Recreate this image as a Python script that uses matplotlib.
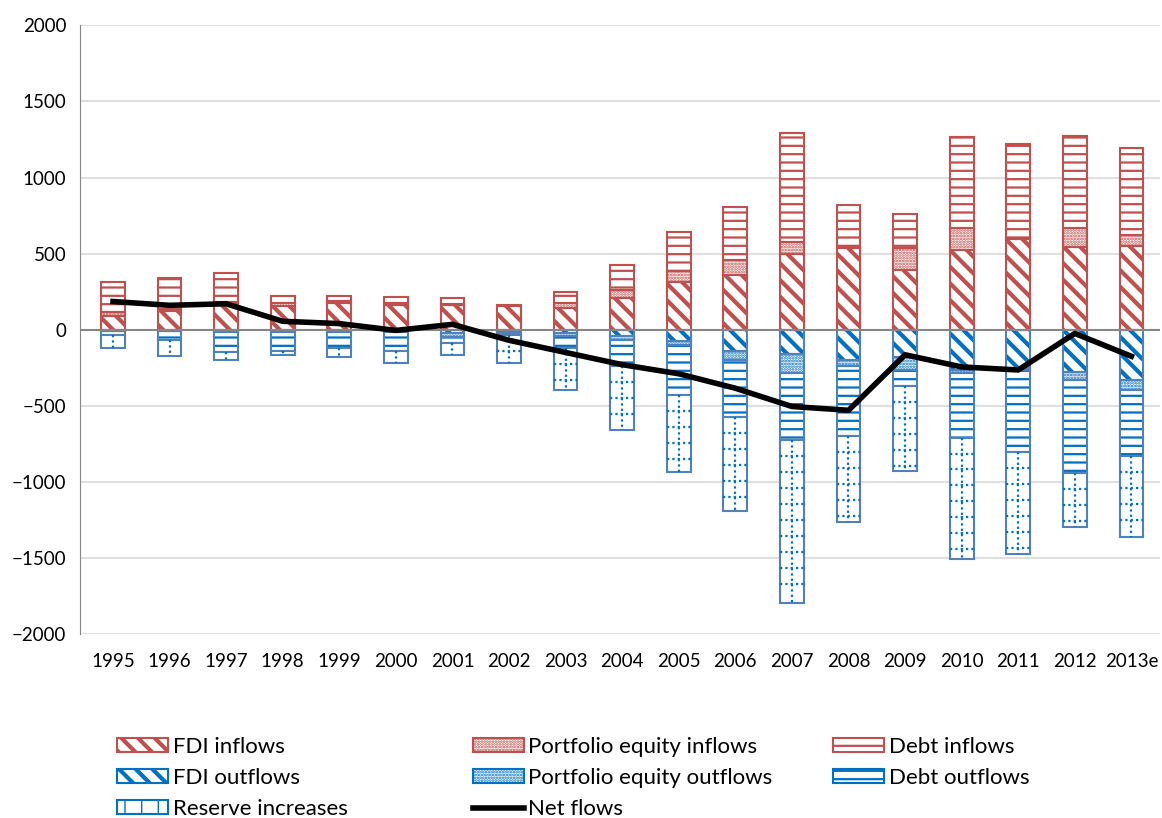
import numpy as np
import matplotlib.pyplot as plt
from matplotlib.patches import Patch
from matplotlib.lines import Line2D

plt.rcParams['font.family'] = ['Lato', 'DejaVu Sans']

years = ['1995', '1996', '1997', '1998', '1999', '2000', '2001', '2002', '2003', '2004',
         '2005', '2006', '2007', '2008', '2009', '2010', '2011', '2012', '2013e']

fdi_in = [92, 120, 170, 153, 175, 160, 160, 155, 143, 208, 311, 362, 495, 537, 395, 526, 596, 542, 553]
port_in = [22, 16, 10, 22, 15, 17, 10, 0, 32, 55, 73, 99, 79, 3, 142, 142, 4, 126, 72]
debt_in = [197, 202, 190, 49, 29, 40, 38, 7, 73, 165, 256, 343, 717, 278, 224, 597, 617, 608, 566]

fdi_out = [-8, -8, -10, -10, -10, -10, -20, -15, -22, -44, -77, -138, -160, -202, -180, -263, -252, -278, -329]
port_out = [-4, -4, -5, -5, -5, -5, -25, -5, -17, -22, -22, -59, -125, -39, -83, -22, -12, -51, -70]
debt_out = [-20, -54, -135, -125, -105, -127, -45, -15, -81, -175, -329, -378, -443, -461, -110, -424, -543, -614, -434]
reserves = [-91, -109, -47, -27, -60, -80, -77, -187, -275, -416, -507, -614, -1070, -559, -553, -796, -670, -355, -527]

net_flows = [185, 160, 170, 55, 40, -5, 35, -70, -150, -230, -290, -385, -505, -530, -165, -245, -265, -25, -175]

red = '#C0504D'
blue = '#0070C0'
blue_edge = '#4F81BD'

hatches = ['\\\\', '......', '--']
hatch_lw = [3.0, 1.3, 1.6]

x = np.arange(len(years))
w = 0.42

fig = plt.figure(figsize=(11.62, 8.18), dpi=100)
ax = fig.add_axes([0.069, 0.225, 0.929, 0.744])

for v in range(-2000, 2001, 500):
    if v == 0:
        continue
    ax.axhline(v, color='#D9D9D9', lw=1.2, zorder=0)

def set_hlw(p, lw):
    if hasattr(p, 'set_hatch_linewidth'):
        p.set_hatch_linewidth(lw)

def stack(series, color, edge):
    base = np.zeros(len(x))
    for s, h, hl in zip(series, hatches, hatch_lw):
        s = np.array(s, dtype=float)
        with plt.rc_context({'hatch.linewidth': hl}):
            bars = ax.bar(x, s, w, bottom=base, facecolor='white', edgecolor=color,
                          hatch=h, linewidth=0, zorder=2)
        for p in bars:
            set_hlw(p, hl)
        ax.bar(x, s, w, bottom=base, facecolor='none', edgecolor=edge,
               linewidth=1.5, zorder=3)
        base = base + s
    return base

stack([fdi_in, port_in, debt_in], red, red)
res_top = stack([fdi_out, port_out, debt_out], blue, blue_edge)

# reserve increases: white bars with a dotted grid
res = np.array(reserves, dtype=float)
ax.bar(x, res, w, bottom=res_top, facecolor='white', edgecolor=blue_edge,
       linewidth=1.5, zorder=3)
dots = (0, (1, 1.4))
for xi, top, r in zip(x, res_top, res):
    bot = top + r
    ax.plot([xi, xi], [top, bot], color=blue, lw=1.6, ls=dots, zorder=3)
    yy = top - 105
    while yy > bot + 20:
        ax.plot([xi - w / 2, xi + w / 2], [yy, yy], color=blue, lw=1.6, ls=dots, zorder=3)
        yy -= 105

ax.axhline(0, color='#868686', lw=1.5, zorder=4)
ax.plot(x, net_flows, color='black', lw=4, zorder=5)

ax.set_xlim(-0.58, 18.5)
ax.set_ylim(-2000, 2000)
ax.set_yticks(range(-2000, 2001, 500))
ax.set_xticks(x)
ax.set_xticklabels(years)
ax.tick_params(axis='both', labelsize=13.5, length=0)
ax.tick_params(axis='x', pad=14)
ax.tick_params(axis='y', pad=10)
for side in ['top', 'right', 'bottom']:
    ax.spines[side].set_visible(False)
ax.spines['left'].set_color('#868686')

def patch(color, i):
    return Patch(facecolor='white', edgecolor=color,
                 hatch=hatches[i] if i is not None else '|', linewidth=1.5)

col1 = ([patch(red, 0), patch(blue, 0), patch(blue, None)],
        ['FDI inflows', 'FDI outflows', 'Reserve increases'],
        [hatch_lw[0], hatch_lw[0], 1.0])
col2 = ([patch(red, 1), patch(blue, 1), Line2D([], [], color='black', lw=4)],
        ['Portfolio equity inflows', 'Portfolio equity outflows', 'Net flows'],
        [hatch_lw[1], hatch_lw[1]])
col3 = ([patch(red, 2), patch(blue, 2)],
        ['Debt inflows', 'Debt outflows'],
        [hatch_lw[2], hatch_lw[2]])

for (hs, ls, hl), xpos in zip([col1, col2, col3], [0.101, 0.407, 0.717]):
    leg = fig.legend(hs, ls, loc='upper left', bbox_to_anchor=(xpos, 0.099),
                     frameon=False, fontsize=16, handlelength=2.3, handleheight=0.6,
                     handletextpad=0.2, labelspacing=0.5, borderpad=0, borderaxespad=0)
    for p, lw in zip(leg.get_patches(), hl):
        set_hlw(p, lw)

fig.savefig('out.png', dpi=100)
